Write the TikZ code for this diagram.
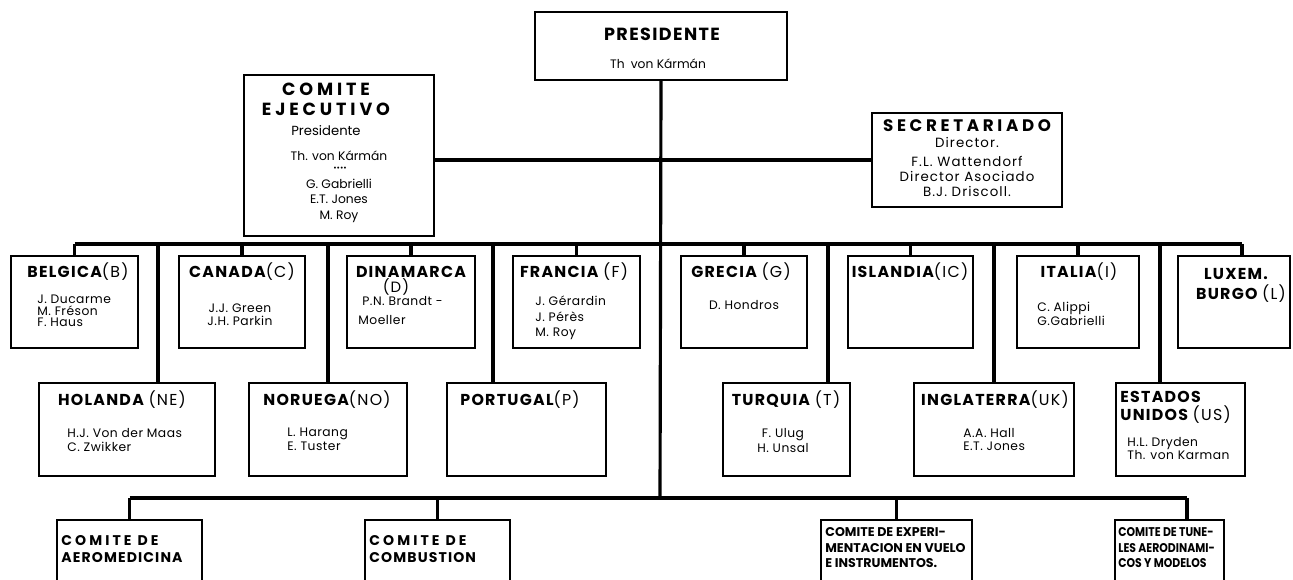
\documentclass[tikz,border=0pt]{standalone}
\usepackage{fontspec}
\setmainfont{Poppins}
\newfontfamily\widefont{Poppins}[LetterSpace=8.0]
\newfontfamily\xwidefont{Poppins}[LetterSpace=22.0]
\newfontfamily\namefont{Poppins}[LetterSpace=4.0]
\newfontfamily\narrowfont{Poppins}[FakeStretch=0.86]
\newcommand{\cod}[1]{{\mdseries(#1)}}
\usetikzlibrary{positioning,fit}

\tikzset{
  box/.style={draw, line width=0.9pt, inner sep=0pt},
  link/.style={line width=1.8pt},
  headline/.style={font=\widefont\bfseries\fontsize{9}{10}\selectfont, inner sep=0pt, anchor=base},
  bighead/.style={headline, font=\widefont\bfseries\fontsize{10}{11}\selectfont},
  xhead/.style={headline, font=\xwidefont\bfseries\fontsize{9.5}{11}\selectfont},
  who/.style={font=\namefont\fontsize{7}{7.6}\selectfont, inner sep=0pt, align=left},
  cmt/.style={font=\bfseries\fontsize{7.2}{9}\selectfont, inner sep=0pt, align=left, anchor=north west},
}

\begin{document}
\begin{tikzpicture}[x=0.02cm, y=-0.02cm]
  \useasboundingbox (0,0) rectangle (1293,580);
  \clip (0,0) rectangle (1293,580);

  % Boxes
  \node[box, fit={(535,12) (787,80)}] (pres) {};
  \node[box, fit={(244,75) (434,236)}] (eje) {};
  \node[box, fit={(872,113) (1062,207)}] (sec) {};
  % first row
  \node[box, fit={(11,256) (138,348)}] (bel) {};
  \node[box, fit={(179,256) (305,348)}] (can) {};
  \node[box, fit={(347,256) (475,348)}] (din) {};
  \node[box, fit={(513,256) (640,348)}] (fra) {};
  \node[box, fit={(681,256) (807,348)}] (gre) {};
  \node[box, fit={(848,256) (973,348)}] (isl) {};
  \node[box, fit={(1017,256) (1139,348)}] (ita) {};
  \node[box, fit={(1178,256) (1290,348)}] (lux) {};
  % second row
  \node[box, fit={(39,383) (215,476)}] (hol) {};
  \node[box, fit={(249,383) (407,476)}] (nor) {};
  \node[box, fit={(447,383) (606,476)}] (por) {};
  \node[box, fit={(723,383) (850,476)}] (tur) {};
  \node[box, fit={(914,383) (1074,476)}] (ing) {};
  \node[box, fit={(1116,383) (1245,476)}] (est) {};
  % committees
  \node[box, fit={(57,520) (202,600)}] (aer) {};
  \node[box, fit={(365,520) (510,600)}] (com) {};
  \node[box, fit={(821,520) (972,600)}] (exp) {};
  \node[box, fit={(1115,520) (1224,600)}] (tun) {};

  % Texts
  \node[bighead] (pres-t) at (662,41) {PRESIDENTE};
  \node[who, anchor=base, font=\fontsize{7}{8}\selectfont] (pres-n) at (658,69) {Th\enspace von Kármán};

  \node[headline, font=\xwidefont\bfseries\fontsize{10}{11}\selectfont] (eje-t1) at (326,96) {COMITE};
  \node[headline, font=\xwidefont\bfseries\fontsize{10}{11}\selectfont] (eje-t2) at (326,116) {EJECUTIVO};
  \node[who, anchor=base, font=\fontsize{7.5}{8}\selectfont] (eje-p) at (326,136) {Presidente};
  \node[who, anchor=base, font=\fontsize{7}{8}\selectfont] (eje-n1) at (339,161) {Th. von Kármán};
  \node[who, anchor=base, font=\fontsize{9}{9}\selectfont] (eje-d) at (340,174) {····};
  \node[who, anchor=base, font=\fontsize{7}{8}\selectfont] (eje-n2) at (339,189) {G. Gabrielli};
  \node[who, anchor=base, font=\fontsize{7}{8}\selectfont] (eje-n3) at (339,204) {E.T. Jones};
  \node[who, anchor=base, font=\fontsize{7}{8}\selectfont] (eje-n4) at (339,220) {M. Roy};

  \node[xhead] (sec-t) at (967,132) {SECRETARIADO};
  \node[who, anchor=base, font=\widefont\fontsize{7.6}{8}\selectfont] (sec-n1) at (967,148) {Director.};
  \node[who, anchor=base, font=\widefont\fontsize{7.6}{8}\selectfont] (sec-n2) at (967,167) {F.L. Wattendorf};
  \node[who, anchor=base, font=\widefont\fontsize{7.6}{8}\selectfont] (sec-n3) at (967,182) {Director Asociado};
  \node[who, anchor=base, font=\widefont\fontsize{7.6}{8}\selectfont] (sec-n4) at (967,197) {B.J. Driscoll.};

  \node[headline] (bel-t) at (78,278) {BELGICA\cod{B}};
  \node[who, anchor=north west, font=\namefont\fontsize{7}{6.4}\selectfont] (bel-n) at (37,295) {J. Ducarme\\M. Fréson\\F. Haus};
  \node[headline] (can-t) at (242,278) {CANADA\cod{C}};
  \node[who, anchor=north, align=center] (can-n) at (240,303) {J.J. Green\\J.H. Parkin};
  \node[headline] (din-t) at (411,278) {DINAMARCA};
  \node[headline, font=\widefont\fontsize{8.5}{10}\selectfont] (din-c) at (396,293) {(D)};
  \node[who, anchor=base west] (din-n1) at (362,306) {P.N. Brandt -};
  \node[who, anchor=base west] (din-n2) at (358,325) {Moeller};
  \node[headline] (fra-t) at (574,278) {FRANCIA \cod{F}};
  \node[who, anchor=north west, font=\namefont\fontsize{7}{8.6}\selectfont] (fra-n) at (535,296) {J. Gérardin\\J. Pérès\\M. Roy};
  \node[headline] (gre-t) at (741,278) {GRECIA \cod{G}};
  \node[who, anchor=north] (gre-n) at (744,300) {D. Hondros};
  \node[headline] (isl-t) at (910,278) {ISLANDIA\cod{IC}};
  \node[headline] (ita-t) at (1079,278) {ITALIA\cod{I}};
  \node[who, anchor=north west] (ita-n) at (1037,302) {C. Alippi\\G.Gabrielli};
  \node[headline] (lux-t1) at (1236,280) {LUXEM.};
  \node[headline] (lux-t2) at (1241,300) {BURGO \cod{L}};

  \node[headline] (hol-t) at (122,405) {HOLANDA \cod{NE}};
  \node[who, anchor=north west, font=\namefont\fontsize{7}{8}\selectfont] (hol-n) at (67,428) {H.J. Von der Maas\\C. Zwikker};
  \node[headline] (nor-t) at (327,405) {NORUEGA\cod{NO}};
  \node[who, anchor=north west, font=\namefont\fontsize{7}{8}\selectfont] (nor-n) at (287,428) {L. Harang\\E. Tuster};
  \node[headline] (por-t) at (520,405) {PORTUGAL\cod{P}};
  \node[headline] (tur-t) at (786,405) {TURQUIA \cod{T}};
  \node[who, anchor=north, align=center, font=\namefont\fontsize{7}{8.4}\selectfont] (tur-n) at (783,428) {F. Ulug\\H. Unsal};
  \node[headline] (ing-t) at (995,405) {INGLATERRA\cod{UK}};
  \node[who, anchor=north west] (ing-n) at (963,428) {A.A. Hall\\E.T. Jones};
  \node[headline, anchor=base west] (est-t1) at (1120,402) {ESTADOS};
  \node[headline, anchor=base west] (est-t2) at (1120,420) {UNIDOS \cod{US}};
  \node[who, anchor=north west] (est-n) at (1127,437) {H.L. Dryden\\Th. von Karman};

  \node[cmt, font=\widefont\bfseries\fontsize{8}{9.6}\selectfont] (aer-n) at (61,535) {{\xwidefont COMITE DE}\\AEROMEDICINA};
  \node[cmt, font=\widefont\bfseries\fontsize{8}{9.6}\selectfont] (com-n) at (369,535) {{\xwidefont COMITE DE}\\COMBUSTION};
  \node[cmt] (exp-n) at (825,527) {COMITE DE EXPERI-\\MENTACION EN VUELO\\E INSTRUMENTOS.};
  \node[cmt, font=\narrowfont\bfseries\fontsize{7.2}{9}\selectfont] (tun-n) at (1118,527) {COMITE DE TUNE-\\LES AERODINAMI-\\COS Y MODELOS};

  % Connectors
  \coordinate (bus1) at (660,244);
  \coordinate (bus2) at (660,498);
  \coordinate (d-lux) at (1242,244);
  \coordinate (d-hol) at (158,244);
  \coordinate (d-por) at (493,244);
  \coordinate (d-tur) at (828,244);
  \coordinate (d-est) at (1160,244);
  \coordinate (d-tun) at (1187,498);
  \draw[link] (pres.south) -- (bus2);
  \draw[link] (eje.east |- sec.west) -- (sec.west);
  \draw[link] (bel.north |- bus1) -- (d-lux);
  \draw[link] (d-lux) -- (d-lux |- lux.north);
  \draw[link] (bel.north |- bus1) -- (bel.north);
  \draw[link] (can.north |- bus1) -- (can.north);
  \draw[link] (din.north |- bus1) -- (din.north);
  \draw[link] (fra.north |- bus1) -- (fra.north);
  \draw[link] (gre.north |- bus1) -- (gre.north);
  \draw[link] (isl.north |- bus1) -- (isl.north);
  \draw[link] (ita.north |- bus1) -- (ita.north);
  \draw[link] (d-hol) -- (d-hol |- hol.north);
  \draw[link] (nor.north |- bus1) -- (nor.north);
  \draw[link] (d-por) -- (d-por |- por.north);
  \draw[link] (d-tur) -- (d-tur |- tur.north);
  \draw[link] (ing.north |- bus1) -- (ing.north);
  \draw[link] (d-est) -- (d-est |- est.north);
  \draw[link] (aer.north |- bus2) -- (d-tun);
  \draw[link] (aer.north |- bus2) -- (aer.north);
  \draw[link] (com.north |- bus2) -- (com.north);
  \draw[link] (exp.north |- bus2) -- (exp.north);
  \draw[link] (d-tun) -- (d-tun |- tun.north);
\end{tikzpicture}
\end{document}
